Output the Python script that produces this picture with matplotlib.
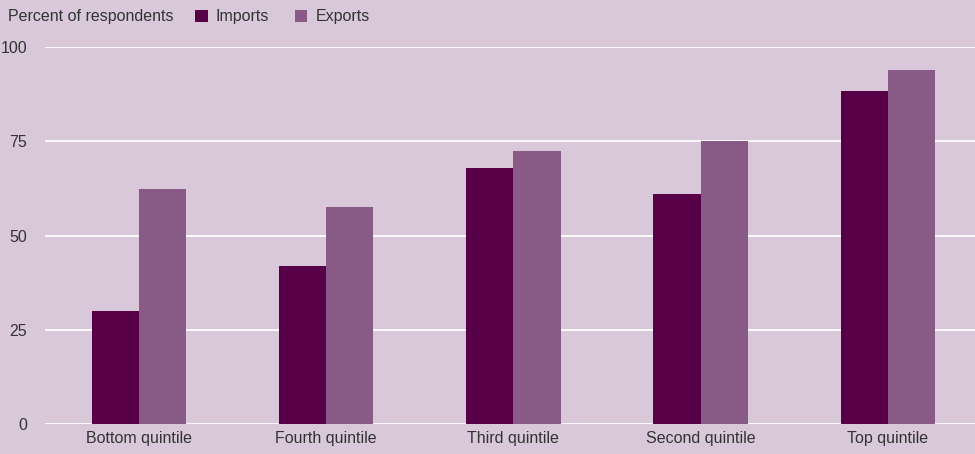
import matplotlib
matplotlib.use("Agg")
import matplotlib.pyplot as plt
import numpy as np

categories = ["Bottom quintile", "Fourth quintile", "Third quintile", "Second quintile", "Top quintile"]
imports = [30, 42, 68, 61, 88.5]
exports = [62.5, 57.5, 72.5, 75, 94]
yticks = [0, 25, 50, 75, 100]

bg = "#d8c8da"
c_imp = "#570047"
c_exp = "#8a5a86"
txt = "#333333"

plt.rcParams["font.family"] = ["Liberation Sans", "DejaVu Sans"]
fs = 11.5

fig = plt.figure(figsize=(9.75, 4.54), dpi=100, facecolor=bg)
ax = fig.add_axes([0.0465, 0.066, 0.96, 0.830], facecolor=bg)

x = np.arange(len(categories))
w = 0.252
ax.bar(x - w / 2, imports, w, color=c_imp, zorder=3, label="Imports")
ax.bar(x + w / 2, exports, w, color=c_exp, zorder=3, label="Exports")

ax.set_xlim(-0.5, 4.5)
ax.set_ylim(0, 100)
ax.set_yticks(yticks)
ax.set_xticks(x)
ax.set_xticklabels(categories)
ax.grid(axis="y", color="white", linewidth=1.3, zorder=1)
ax.tick_params(length=0, labelsize=fs, colors=txt)
ax.tick_params(axis="y", pad=13)
ax.tick_params(axis="x", pad=5)
for s in ax.spines.values():
    s.set_visible(False)

fig.text(0.008, 0.963, "Percent of respondents", fontsize=fs, color=txt, va="center")
fig.legend(loc="center left", bbox_to_anchor=(0.2, 0.963), ncol=2, frameon=False,
           fontsize=fs, handlelength=0.8, handleheight=0.8, handletextpad=0.5,
           columnspacing=1.6, labelcolor=txt, borderaxespad=0, borderpad=0)

fig.savefig("out.png", dpi=100, facecolor=bg)
